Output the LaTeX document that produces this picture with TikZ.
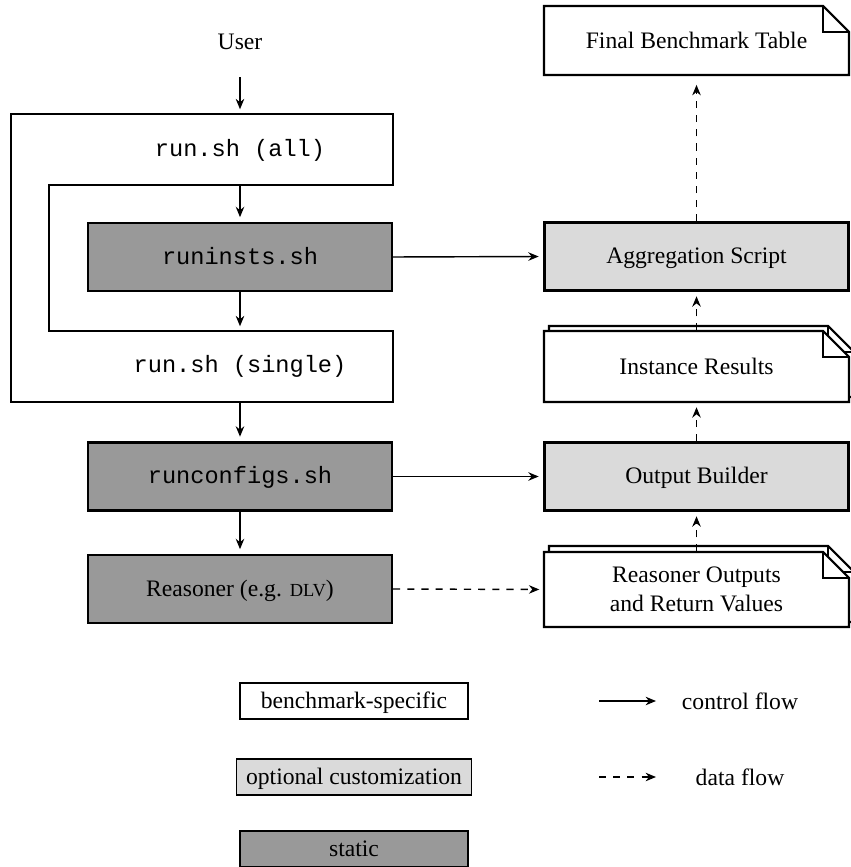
\documentclass[tikz,border=0pt]{standalone}
\usepackage{fontspec}
\setmainfont{Liberation Serif}
\setmonofont{Liberation Mono}
\usepackage{xcolor}
\usepackage{tikz}
\usetikzlibrary{arrows.meta}
\definecolor{staticgray}{RGB}{153,153,153}
\definecolor{customgray}{RGB}{218,218,218}

\begin{document}
\begin{tikzpicture}[x=0.4233pt, y=-0.4233pt, >={Stealth[length=4.4pt,width=3.6pt]}, line join=miter,
    frame/.style={draw, line width=0.9pt},
    stepbox/.style={frame, minimum width=128.7pt, minimum height=28.8pt, inner sep=0pt, text height=8pt, text depth=2pt},
    doctext/.style={minimum width=128.7pt, inner sep=0pt, align=center},
    flow/.style={->, line width=0.6pt, shorten >=2pt},
    dataflow/.style={flow, dashed},
    legendbox/.style={draw, line width=0.7pt, minimum width=96.5pt, minimum height=15.2pt, inner xsep=4pt, inner ysep=0pt, text height=8pt, text depth=2pt}]
  \useasboundingbox (0,0) rectangle (850,867);

  % outer run.sh frame with the notch for runinsts.sh
  \filldraw[frame, fill=white] (11,114) -- (393,114) -- (393,185) -- (49,185) -- (49,331)
    -- (393,331) -- (393,402) -- (11,402) -- cycle;
  \coordinate (alltop) at (240,114);
  \coordinate (notchtop) at (240,185);
  \coordinate (notchbot) at (240,331);
  \coordinate (allbot) at (240,402);

  % left column
  \node (user) at (240,42) {User};
  \node (runall) at (240,150) {\ttfamily run.sh (all)};
  \node[stepbox, fill=staticgray] (runinsts) at (240,257) {\ttfamily runinsts.sh};
  \node (runsingle) at (240,366) {\ttfamily run.sh (single)};
  \node[stepbox, fill=staticgray] (runconfigs) at (240,476.5) {\ttfamily runconfigs.sh};
  \node[stepbox, fill=staticgray] (reasoner) at (240,589) {Reasoner (e.g. {\fontsize{7.8}{9}\selectfont DLV})};

  % right column: pages
  \filldraw[frame, fill=white] (544,6) -- (823,6) -- (849,32) -- (849,75) -- (544,75) -- cycle;
  \draw[frame] (823,6) -- (823,32) -- (849,32);
  \filldraw[frame, fill=white] (549,326) -- (828,326) -- (854,352) -- (854,397) -- (549,397) -- cycle;
  \draw[frame] (828,326) -- (828,352) -- (854,352);
  \filldraw[frame, fill=white] (544,331) -- (823,331) -- (849,357) -- (849,402) -- (544,402) -- cycle;
  \draw[frame] (823,331) -- (823,357) -- (849,357);
  \filldraw[frame, fill=white] (549,546) -- (828,546) -- (854,572) -- (854,622) -- (549,622) -- cycle;
  \draw[frame] (828,546) -- (828,572) -- (854,572);
  \filldraw[frame, fill=white] (544,552) -- (823,552) -- (849,578) -- (849,627) -- (544,627) -- cycle;
  \draw[frame] (823,552) -- (823,578) -- (849,578);

  % right column: nodes
  \node[doctext, minimum height=29.2pt] (finaltable) at (696.5,40.5) {Final Benchmark Table};
  \node[stepbox, fill=customgray] (aggr) at (696.5,256.5) {Aggregation Script};
  \node[doctext, minimum height=30.1pt] (instres) at (696.5,366.5) {Instance Results};
  \node[stepbox, fill=customgray] (outbuilder) at (696.5,476.5) {Output Builder};
  \node[doctext, minimum height=31.7pt] (reasout) at (696.5,589.5) {Reasoner Outputs\\and Return Values};

  % control flow
  \draw[flow, shorten <=8pt] (user) -- (alltop);
  \draw[flow] (notchtop) -- (runinsts.north);
  \draw[flow] (runinsts.south) -- (notchbot);
  \draw[flow] (allbot) -- (runconfigs.north);
  \draw[flow] (runconfigs.south) -- (reasoner.north);
  \draw[flow] (runinsts.east) -- (aggr.west);
  \draw[flow] (runconfigs.east) -- (outbuilder.west);

  % data flow
  \draw[dataflow] (reasoner.east) -- (reasout.west);
  \draw[dataflow] (reasout.north) -- (outbuilder.south);
  \draw[dataflow] (outbuilder.north) -- (instres.south);
  \draw[dataflow] (instres.north) -- (aggr.south);
  \draw[dataflow, shorten >=4pt] (aggr.north) -- (finaltable.south);

  % legend
  \node[legendbox, fill=white] (legbench) at (354,701) {benchmark-specific};
  \node[legendbox, fill=customgray] (legopt) at (354,777) {optional customization};
  \node[legendbox, fill=staticgray] (legstatic) at (354,849) {static};
  \coordinate (ctrlstart) at (599,701);
  \coordinate (ctrlend) at (656,701);
  \coordinate (datastart) at (599,777);
  \coordinate (dataend) at (656,777);
  \draw[flow, shorten >=0pt] (ctrlstart) -- (ctrlend);
  \draw[dataflow, shorten >=0pt] (datastart) -- (dataend);
  \node (ctrllabel) at (740,701) {control flow};
  \node (datalabel) at (740,777) {data flow};
\end{tikzpicture}
\end{document}
